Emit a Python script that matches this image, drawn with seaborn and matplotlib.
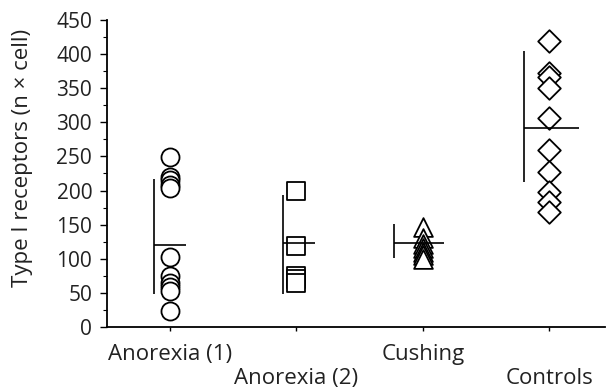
import numpy as np
import pandas as pd
import matplotlib
matplotlib.use("Agg")
import matplotlib.pyplot as plt
import seaborn as sns
from matplotlib.ticker import MultipleLocator

# ---- data ----
categories = ["Anorexia (1)", "Anorexia (2)", "Cushing", "Controls"]
anorexia1 = [249, 220, 215, 208, 203, 102, 75, 65, 58, 52, 24]
anorexia2 = [200, 118, 75, 70, 65]
cushing = [146, 130, 122, 116, 110, 105, 100]
controls = [419, 372, 366, 350, 306, 260, 227, 198, 183, 169]
center_line = [120, 123, 123, 292]
bar_low = [48, 48, 101, 212]
bar_high = [217, 193, 151, 405]
ylabel = "Type I receptors (n \u00d7 cell)"

# ---- styles ----
markers = ["o", "s", "^", "D"]
sizes = [13, 13, 13.5, 11.5]
vbar_offset = [-0.13, -0.11, -0.23, -0.20]
hbar_right = [0.13, 0.15, 0.17, 0.23]

groups = [anorexia1, anorexia2, cushing, controls]
df = pd.DataFrame({
    "group": np.concatenate([[c] * len(g) for c, g in zip(categories, groups)]),
    "value": np.concatenate(groups),
})

sns.set_theme(style="ticks")
plt.rcParams["font.family"] = ["Open Sans", "DejaVu Sans"]

TICK_FS = 15
LABEL_FS = 16
fig = plt.figure(figsize=(6.10, 3.92), dpi=100)
ax = fig.add_axes([0.175, 0.166, 0.817, 0.783])

for i, cat in enumerate(categories):
    sub = df[df["group"] == cat]
    sns.stripplot(data=sub, x="group", y="value", order=categories,
                  jitter=False, marker=markers[i], size=sizes[i],
                  color="white", edgecolor="black", linewidth=1.3, ax=ax,
                  zorder=3)

for i in range(len(categories)):
    ax.vlines(i + vbar_offset[i], bar_low[i], bar_high[i], color="black",
              linewidth=1.2, zorder=2)
    ax.hlines(center_line[i], i + vbar_offset[i], i + hbar_right[i],
              color="black", linewidth=1.2, zorder=4)

ax.set_ylim(0, 450)
ax.set_xlim(-0.5, 3.44)
ax.yaxis.set_major_locator(MultipleLocator(50))
ax.yaxis.set_minor_locator(MultipleLocator(25))
ax.tick_params(axis="y", which="major", length=5, width=1, direction="out",
               labelsize=TICK_FS, pad=5.5, color="black", labelcolor="#222222")
ax.tick_params(axis="y", which="minor", length=3, width=0.8, direction="out",
               color="black")
ax.tick_params(axis="x", length=3, width=1, direction="out", labelsize=LABEL_FS,
               pad=9, color="black", labelcolor="#222222")
ax.set_xticks(range(len(categories)))
ax.set_xticklabels([c if i % 2 == 0 else "\n" + c for i, c in enumerate(categories)],
                   linespacing=1.2)
ax.set_xlabel("")
ax.set_ylabel(ylabel, fontsize=LABEL_FS, color="#222222")
ax.yaxis.set_label_coords(-0.148, 0.55)
for s in ["top", "right"]:
    ax.spines[s].set_visible(False)
for s in ["left", "bottom"]:
    ax.spines[s].set_linewidth(1.3)
    ax.spines[s].set_color("black")

fig.savefig("out.png", dpi=100)
